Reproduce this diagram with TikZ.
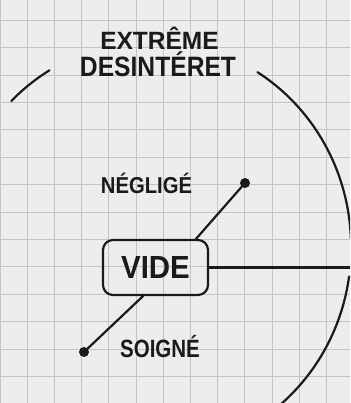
\documentclass[tikz,border=0pt]{standalone}
\usepackage{fontspec}
\setmainfont{Liberation Sans}
\definecolor{paper}{HTML}{EDEDED}
\definecolor{gridc}{HTML}{C4C4C4}
\definecolor{inkc}{HTML}{1A1A1A}
\begin{document}
\begin{tikzpicture}[x=1pt,y=-1pt,
  ink/.style={draw=inkc, line width=2.2pt, line cap=round, line join=round},
  hand/.style={text=inkc, inner sep=0pt, anchor=base},
  dotnode/.style={circle, fill=inkc, inner sep=0pt, minimum size=10pt},
  gridline/.style={draw=gridc, line width=0.9pt}]
\useasboundingbox (0,0) rectangle (350,403);
\fill[paper] (0,0) rectangle (350,403);
\clip (0,0) rectangle (350,403);
\foreach \k in {0,...,12} \draw[gridline] ({0.1+27.2*\k},0) -- ({0.1+27.2*\k},403);
\foreach \k in {0,...,14} \draw[gridline] (0,{-7.2+27.4*\k}) -- (350,{-7.2+27.4*\k});

% texts
\node[hand, font=\fontsize{25}{25}\selectfont\bfseries] (t1) at (159.5,50) {\scalebox{0.98}[1]{EXTRÊME}};
\node[hand, font=\fontsize{28}{28}\selectfont\bfseries] (t2) at (158,77) {\scalebox{0.88}[1]{DESINTÉRET}};
\node[hand, font=\fontsize{23}{23}\selectfont\bfseries] (t3) at (146.5,193) {\scalebox{0.88}[1]{NÉGLIGÉ}};
\node[hand, font=\fontsize{25}{25}\selectfont\bfseries] (t4) at (160,357) {\scalebox{0.82}[1]{SOIGNÉ}};

% central box
\node[ink, rounded corners=10pt, minimum width=105pt, minimum height=55pt, inner sep=0pt,
      text=inkc, font=\fontsize{32}{32}\selectfont\bfseries] (box) at (155.5,267.5) {\scalebox{0.92}[1]{VIDE}};

% dots and edge coordinate
\node[dotnode] (dA) at (245,183) {};
\node[dotnode] (dB) at (84,352) {};
\coordinate (edge) at (350,0);

% connectors
\draw[ink] ([xshift=40.5pt]box.north) -- (dA.center);
\draw[ink] (box.east) -- (box.east -| edge);
\draw[ink] ([xshift=-12.5pt]box.south) -- (dB.center);

% big circle fragments
\draw[ink] plot[domain=-135:-121, samples=20, smooth] ({152+199*cos(\x)},{246+205*sin(\x)});
\draw[ink] plot[domain=-58:-2, samples=60, smooth] ({152+199*cos(\x)},{246+205*sin(\x)});
\draw[ink] plot[domain=8:55, samples=60, smooth] ({152+199*cos(\x)},{248+205*sin(\x)});
\end{tikzpicture}
\end{document}
